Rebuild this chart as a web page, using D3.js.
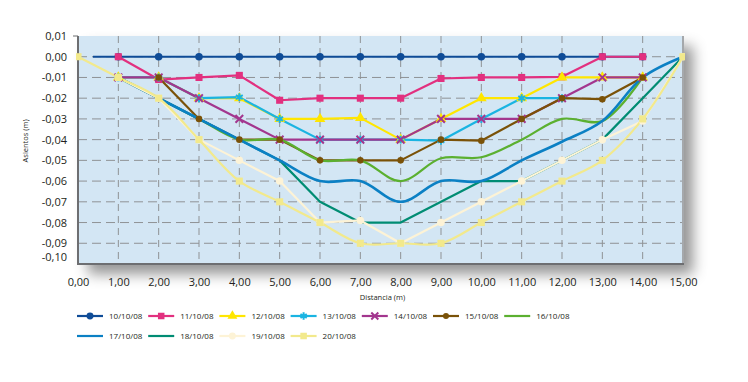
<!DOCTYPE html>
<html lang="es">
<head>
  <meta charset="utf-8">
  <title>Asientos</title>
  <script src="https://cdn.jsdelivr.net/npm/d3@7/dist/d3.min.js"></script>
  <style>
    body { margin: 0; background: #fff; }
    text { font-family: "Open Sans", "Liberation Sans", sans-serif; fill: #231f20; }
  </style>
</head>
<body>
<div class="chart"></div>
<script>
// stations along the section (m) and tick values
var stations = [0,1,2,3,4,5,6,7,8,9,10,11,12,13,14,15];
var yTicks = [0.01,0,-0.01,-0.02,-0.03,-0.04,-0.05,-0.06,-0.07,-0.08,-0.09,-0.10];

var dates = ["10/10/08","11/10/08","12/10/08","13/10/08","14/10/08","15/10/08","16/10/08",
             "17/10/08","18/10/08","19/10/08","20/10/08"];
var colors = ["#0f4c97","#e2307f","#ffe600","#1ab4e2","#a3368e","#7a5208","#5bb030",
              "#0b80c4","#008c73","#fdf3d6","#f2e98c"];
var markers = ["circle","square","triangle","asterisk","times","dot","none",
               "none","none","circle","square"];
var smooth = ["16/10/08","17/10/08","20/10/08"];

// settlement readings (m) per station, null = no reading
var v1010 = [null,0,0,0,0,0,0,0,0,0,0,0,0,0,0,null];
var start1010 = 0.37; // first reading sits a little right of 0,00
var v1110 = [null,0,-0.011,-0.010,-0.009,-0.021,-0.020,-0.020,-0.020,-0.0105,-0.010,-0.010,-0.0097,0,0,null];
var v1210 = [null,-0.010,-0.010,-0.020,-0.020,-0.030,-0.030,-0.0295,-0.040,-0.030,-0.020,-0.020,-0.010,-0.010,-0.010,null];
var v1310 = [null,-0.010,-0.010,-0.020,-0.0195,-0.030,-0.040,-0.040,-0.040,-0.0405,-0.030,-0.020,-0.020,null,null,null];
var v1410 = [null,-0.010,-0.010,-0.020,-0.030,-0.040,-0.040,-0.040,-0.040,-0.030,-0.030,-0.030,-0.020,-0.010,-0.010,null];
var v1510 = [null,null,-0.010,-0.030,-0.040,-0.040,-0.050,-0.050,-0.050,-0.040,-0.0405,-0.030,-0.020,-0.0205,-0.010,null];
var v1610 = [null,-0.010,-0.020,-0.030,-0.040,-0.040,-0.050,-0.050,-0.060,-0.049,-0.0485,-0.040,-0.030,-0.031,-0.010,null];
var v1710 = [null,-0.010,-0.020,-0.030,-0.040,-0.050,-0.060,-0.060,-0.070,-0.060,-0.060,-0.050,-0.041,-0.031,-0.010,0];
var v1810 = [null,-0.010,-0.020,-0.030,-0.040,-0.050,-0.070,-0.080,-0.080,-0.070,-0.060,-0.060,-0.050,-0.040,-0.020,0];
var v1910 = [null,-0.010,-0.020,-0.040,-0.050,-0.060,-0.080,-0.079,-0.090,-0.080,-0.070,-0.060,-0.050,-0.040,-0.031,0];
var v2010 = [0,-0.010,-0.020,-0.040,-0.060,-0.070,-0.080,-0.090,-0.090,-0.090,-0.080,-0.070,-0.060,-0.050,-0.030,0];

var values = [v1010,v1110,v1210,v1310,v1410,v1510,v1610,v1710,v1810,v1910,v2010];

var W = 748, H = 382;
var m = {top: 36, left: 78, right: 65, bottom: 118};
var w = W - m.left - m.right,
    h = H - m.top - m.bottom;

var x = d3.scaleLinear().domain([0, 15]).range([0, w]);
var y = d3.scaleLinear().domain([-0.10, 0.01]).range([h, 0]);

var es = d3.formatLocale({decimal: ",", thousands: ".", grouping: [3], currency: ["", "€"], minus: "-"});
var fmt = es.format(".2f");

var svg = d3.select(".chart").append("svg")
  .attr("width", W)
  .attr("height", H);

var defs = svg.append("defs");
var shadow = defs.append("filter").attr("id", "shadow")
  .attr("x", "-5%").attr("y", "-5%").attr("width", "120%").attr("height", "135%");
shadow.append("feDropShadow")
  .attr("dx", 10).attr("dy", 10).attr("stdDeviation", 7)
  .attr("flood-color", "#000").attr("flood-opacity", 0.42);
defs.append("clipPath").attr("id", "clip")
  .append("rect").attr("x", -2).attr("y", -2).attr("width", w + 4).attr("height", h + 2);

var g = svg.append("g").attr("transform", "translate(" + m.left + "," + m.top + ")");

// plot background with drop shadow
g.append("rect")
  .attr("width", w).attr("height", h)
  .style("fill", "#d3e6f4")
  .style("filter", "url(#shadow)");

// dashed grid
g.selectAll(".hgrid").data(yTicks.slice(1, -1)).enter().append("line")
  .attr("class", "hgrid")
  .attr("x1", 0).attr("x2", w)
  .attr("y1", function(d){ return y(d); })
  .attr("y2", function(d){ return y(d); })
  .style("stroke", "#8f9295").style("stroke-width", 1)
  .style("stroke-dasharray", "9,5");

g.selectAll(".vgrid").data(stations.slice(1, -1)).enter().append("line")
  .attr("class", "vgrid")
  .attr("x1", function(d){ return x(d); })
  .attr("x2", function(d){ return x(d); })
  .attr("y1", 0).attr("y2", h)
  .style("stroke", "#8f9295").style("stroke-width", 1)
  .style("stroke-dasharray", "7,5");

// right border
g.append("line")
  .attr("x1", w).attr("x2", w).attr("y1", 0).attr("y2", h)
  .style("stroke", "#a5a8ab").style("stroke-width", 2);

// axes
var yAxis = g.append("g")
  .call(d3.axisLeft(y).tickValues(yTicks).tickFormat(fmt).tickSize(0).tickPadding(11));
var xAxis = g.append("g")
  .attr("transform", "translate(0," + h + ")")
  .call(d3.axisBottom(x).tickValues(stations).tickFormat(fmt).tickSize(0).tickPadding(14));

[yAxis, xAxis].forEach(function(a){
  a.select(".domain").remove();
  a.selectAll("text").style("font-size", "11px").style("fill", "#231f20")
    .style("font-family", '"Open Sans", sans-serif');
});
// lowest y label sits a bit above the axis
yAxis.selectAll(".tick").filter(function(d){ return d === -0.10; })
  .select("text").attr("dy", "-0.32em");

g.append("line").attr("x1", 0).attr("x2", 0).attr("y1", 0).attr("y2", h + 1)
  .style("stroke", "#6d6e71").style("stroke-width", 2);
g.append("line").attr("x1", -1).attr("x2", w + 1).attr("y1", h).attr("y2", h)
  .style("stroke", "#6d6e71").style("stroke-width", 2);
g.append("line").attr("x1", -5).attr("x2", 0).attr("y1", y(0.01)).attr("y2", y(0.01))
  .style("stroke", "#6d6e71").style("stroke-width", 1);

// axis titles
svg.append("text")
  .attr("transform", "translate(28," + (m.top + h * 0.46) + ") rotate(-90)")
  .attr("text-anchor", "middle")
  .style("font-size", "7.5px")
  .text("Asientos (m)");
svg.append("text")
  .attr("x", m.left + w / 2 + 2)
  .attr("y", 300)
  .attr("text-anchor", "middle")
  .style("font-size", "7.5px")
  .text("Distancia (m)");

// build the series
var series = dates.map(function(dt, i){
  var pts = [];
  values[i].forEach(function(v, j){
    if (v !== null) pts.push({x: stations[j], y: v, mark: true});
  });
  if (dt === "10/10/08") pts.unshift({x: start1010, y: 0, mark: false});
  return {date: dt, color: colors[i], marker: markers[i], pts: pts,
          smooth: smooth.indexOf(dt) > -1};
});

var lineLin = d3.line().x(function(d){ return x(d.x); }).y(function(d){ return y(d.y); });
var lineSm = d3.line().curve(d3.curveCatmullRom.alpha(0.5))
  .x(function(d){ return x(d.x); }).y(function(d){ return y(d.y); });

// 18/10 is drawn under 17/10
var order = [0,1,2,3,4,5,6,8,7,9,10];

var plot = g.append("g").attr("clip-path", "url(#clip)");

function symbolFor(type){
  if (type === "circle") return {sym: d3.symbolCircle, size: 44, stroke: false};
  if (type === "dot") return {sym: d3.symbolCircle, size: 34, stroke: false};
  if (type === "square") return {sym: d3.symbolSquare, size: 50, stroke: false};
  if (type === "triangle") return {sym: d3.symbolTriangle, size: 50, stroke: false};
  if (type === "asterisk") return {sym: d3.symbolAsterisk, size: 44, stroke: true};
  if (type === "times") return {sym: d3.symbolTimes, size: 40, stroke: true};
  return null;
}

order.forEach(function(i){
  var s = series[i];
  plot.append("path")
    .datum(s.pts)
    .attr("d", s.smooth ? lineSm : lineLin)
    .style("fill", "none")
    .style("stroke", s.color)
    .style("stroke-width", s.date === "17/10/08" ? 2.6 : 2.2)
    .style("stroke-linejoin", "round");
});

order.forEach(function(i){
  var s = series[i];
  var sy = symbolFor(s.marker);
  if (!sy) return;
  plot.selectAll(".mk" + i).data(s.pts.filter(function(d){ return d.mark; })).enter()
    .append("path")
    .attr("class", "mk" + i)
    .attr("transform", function(d){ return "translate(" + x(d.x) + "," + y(d.y) + ")"; })
    .attr("d", d3.symbol().type(sy.sym).size(sy.size))
    .style("fill", sy.stroke ? "none" : s.color)
    .style("stroke", s.color)
    .style("stroke-width", sy.stroke ? 2 : 0);
});

// legend, 7 per row
var legend = svg.append("g").attr("transform", "translate(77,316)");
series.forEach(function(s, i){
  var it = legend.append("g")
    .attr("transform", "translate(" + ((i % 7) * 71.2) + "," + (Math.floor(i / 7) * 20) + ")");
  it.append("line").attr("x1", 0).attr("x2", 26).attr("y1", 0).attr("y2", 0)
    .style("stroke", s.color).style("stroke-width", 2.2);
  var sy = symbolFor(s.marker);
  if (sy) {
    it.append("path")
      .attr("transform", "translate(13,0)")
      .attr("d", d3.symbol().type(sy.sym).size(sy.size * 0.85))
      .style("fill", sy.stroke ? "none" : s.color)
      .style("stroke", s.color)
      .style("stroke-width", sy.stroke ? 2 : 0);
  }
  it.append("text").attr("x", 32).attr("y", 3)
    .style("font-size", "8px")
    .text(s.date);
});
</script>
</body>
</html>
